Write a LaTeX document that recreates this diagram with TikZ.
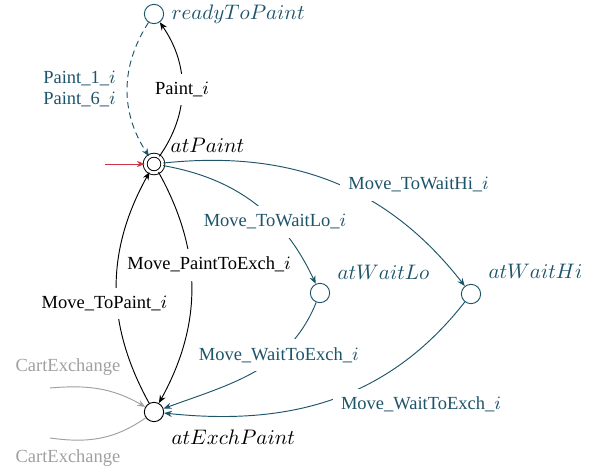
\documentclass[tikz,border=0pt]{standalone}
\usepackage{fontspec}
\setmainfont{Liberation Serif}
\usetikzlibrary{arrows.meta}
\definecolor{tealc}{RGB}{30,84,106}
\definecolor{grayc}{RGB}{160,160,160}
\definecolor{redc}{RGB}{204,51,68}
\begin{document}
\begin{tikzpicture}[x=0.4762pt,y=0.4762pt,
  st/.style={circle,draw,minimum size=9.2pt,inner sep=0pt,line width=0.45pt},
  e/.style={-{Stealth[length=3.8pt,width=3pt,inset=1.3pt]}, line width=0.45pt},
  lblfont/.style={font=\fontsize{8.8}{10}\selectfont},
  lbl/.style={lblfont,fill=white,inner sep=4pt}]
\useasboundingbox (0,0) rectangle (595,-472);
% states
\node[st,tealc,label={[tealc]right:$readyToPaint$}] (ready) at (154,-14) {};
\node[st,double,double distance=1.4pt,minimum size=8.4pt,label={[yshift=9pt]right:$atPaint$}] (atPaint) at (154,-164) {};
\node[st,tealc,label={[tealc,yshift=10pt]right:$atWaitLo$}] (waitLo) at (320,-293) {};
\node[st,tealc,label={[tealc,yshift=11pt]right:$atWaitHi$}] (waitHi) at (471,-294) {};
\node[st,label={[yshift=-12pt]right:$atExchPaint$}] (exch) at (154,-412) {};
% initial
\coordinate (init) at (105,-164);
\draw[e,redc] (init) -- (atPaint);
% transitions
\draw[e] (atPaint) to[bend right=35] node[lbl]{Paint\_$i$} (ready);
\draw[e,tealc,dash pattern=on 3pt off 2pt] (ready) to[bend right=33] node[lblfont,left=2pt,align=right]{Paint\_1\_$i$\\Paint\_6\_$i$} (atPaint);
\draw[e] (atPaint) to[bend left=29] node[lbl,pos=0.4,xshift=9pt]{Move\_PaintToExch\_$i$} (exch);
\draw[e] (exch) to[bend left=29] node[lbl,pos=0.43,xshift=-6pt]{Move\_ToPaint\_$i$} (atPaint);
\draw[e,tealc] (atPaint) to[out=6,in=128] node[lbl,pos=0.525,anchor=west]{Move\_ToWaitHi\_$i$} (waitHi);
\draw[e,tealc] (atPaint) to[out=-10,in=115] node[lbl,pos=0.64]{Move\_ToWaitLo\_$i$} (waitLo);
\draw[e,tealc] (waitLo) to[out=-112,in=20] node[lbl,pos=0.34]{Move\_WaitToExch\_$i$} (exch);
\draw[e,tealc] (waitHi) to[out=-128,in=-6] node[lbl,pos=0.5,anchor=west,yshift=-2.5pt]{Move\_WaitToExch\_$i$} (exch);
% cart exchange
\coordinate (cin) at (50,-388);
\coordinate (cout) at (50,-438);
\draw[e,grayc] (cin) to[out=5,in=150] (exch);
\draw[grayc,line width=0.45pt] (exch) to[out=-145,in=-8] (cout);
\node[grayc,lblfont] (cinl) at (68,-367) {CartExchange};
\node[grayc,lblfont] (coutl) at (68,-458) {CartExchange};
\end{tikzpicture}
\end{document}
